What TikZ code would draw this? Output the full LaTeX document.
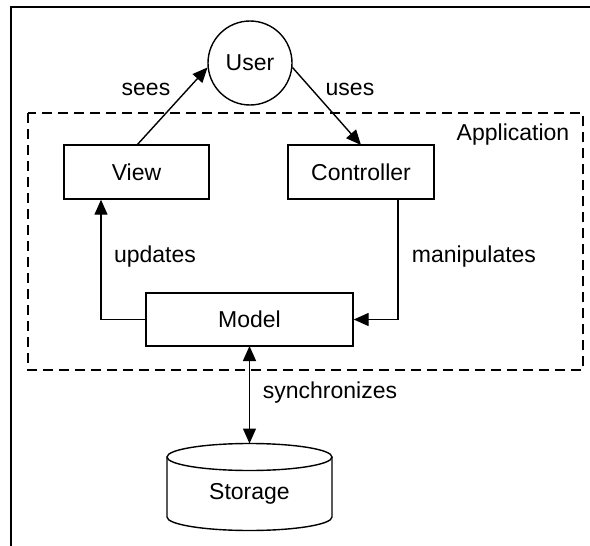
\documentclass[tikz,border=0pt]{standalone}
\usepackage{fontspec}
\setmainfont{Liberation Sans}
\usetikzlibrary{arrows.meta}
\begin{document}
\begin{tikzpicture}[x=1pt,y=-1pt,
  every node/.style={font=\fontsize{23}{27}\selectfont},
  box/.style={draw,line width=1.4pt,inner sep=0pt},
  tip/.style={Triangle[length=15pt,width=13pt]},
  arr/.style={line width=1.4pt,-{Triangle[length=15pt,width=13pt]}},
  darr/.style={line width=1.4pt,{Triangle[length=15pt,width=13pt]}-{Triangle[length=15pt,width=13pt]}},
  lbl/.style={inner sep=0pt}]
\useasboundingbox (0,0) rectangle (590,546);
% partial outer frame
\draw[line width=1.6pt] (11,546) -- (11,7) -- (590,7);
% application dashed region
\draw[line width=1.4pt,dash pattern=on 10pt off 6pt] (28,113) rectangle (583,370);
\node[lbl] (app) at (513,135) {Application};
% nodes
\node[draw,circle,line width=1.4pt,minimum size=84pt,inner sep=0pt] (user) at (250,63) {User};
\node[box,minimum width=145pt,minimum height=54pt] (view) at (136.5,172) {View};
\node[box,minimum width=146pt,minimum height=54pt] (ctrl) at (361,172) {Controller};
\node[box,minimum width=207pt,minimum height=53pt] (model) at (249.5,319.5) {Model};
% storage cylinder
\draw[line width=1.4pt] (167,457) -- (167,517) arc[start angle=180,end angle=360,x radius=82.5pt,y radius=13.5pt] -- (332,457);
\draw[line width=1.4pt] (249.5,457) ellipse[x radius=82.5pt,y radius=13.5pt];
\coordinate (stortop) at (249.5,443.5);
\node[lbl] (storage) at (249.5,494) {Storage};
% helper coordinates
\coordinate (vx) at (101,319.5);
\coordinate (cx) at (398,319.5);
\coordinate (vtop) at (137,145);
\coordinate (ctop) at (361,145);
\coordinate (cbot) at (398,199);
\coordinate (mbot) at (249.5,346);
% connectors
\draw[arr] (vtop) -- (user.186);
\draw[arr] (user.-6) -- (ctop);
\draw[arr] (model.west) -- (vx) -- (vx |- view.south);
\draw[arr] (cbot) -- (cx) -- (model.east);
\draw[darr] (mbot) -- (stortop);
% labels
\node[lbl] (seeslbl) at (146,89) {sees};
\node[lbl] (useslbl) at (350,89) {uses};
\node[lbl] (updlbl) at (155,257) {updates};
\node[lbl] (manlbl) at (474,257) {manipulates};
\node[lbl] (synlbl) at (330,393) {synchronizes};
\end{tikzpicture}
\end{document}
